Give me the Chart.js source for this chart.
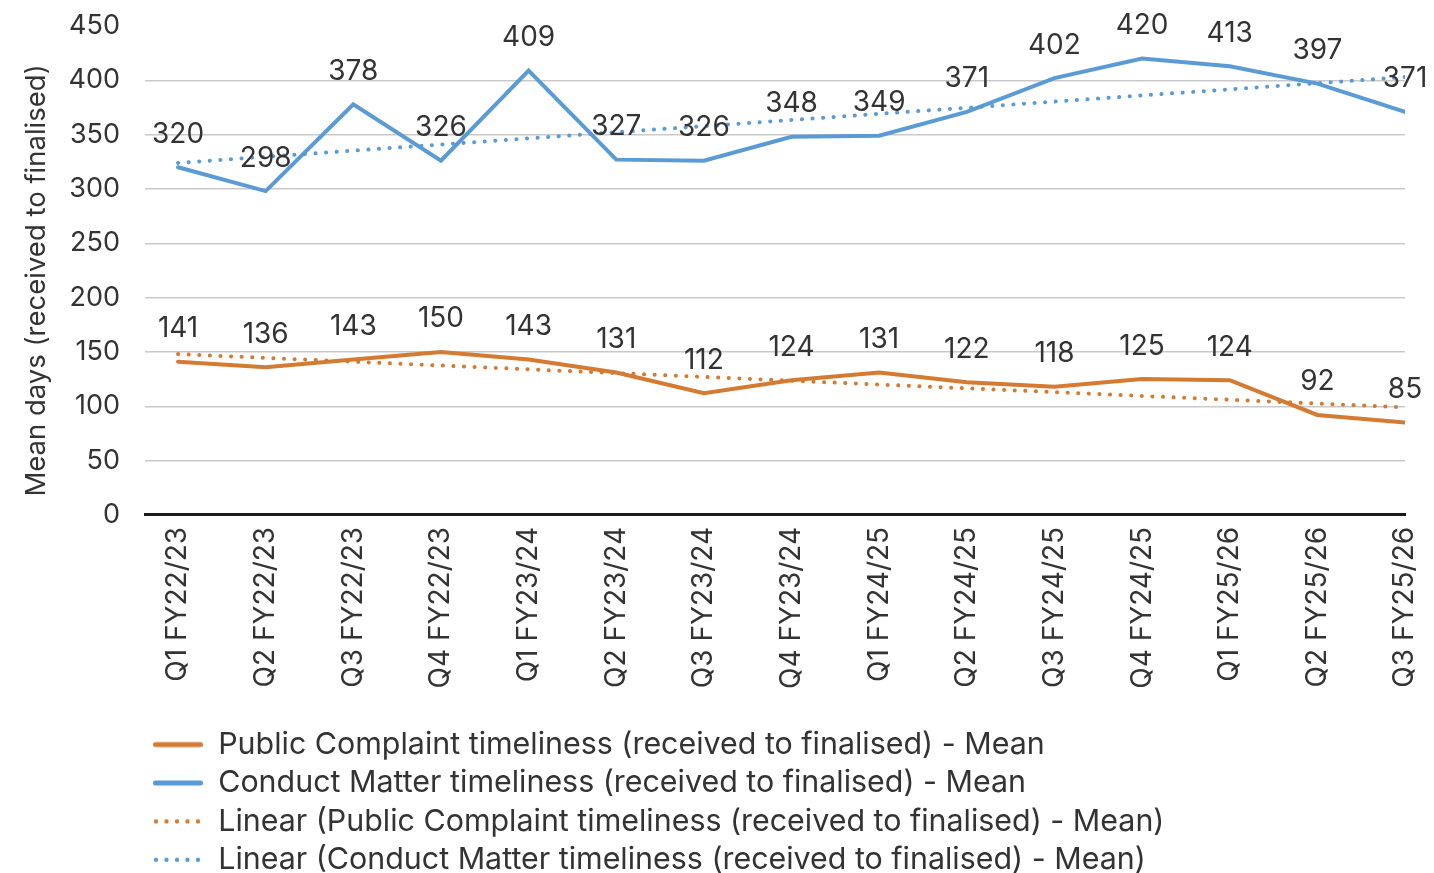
<!DOCTYPE html>
<html>
<head>
<meta charset="utf-8">
<script src="https://cdn.jsdelivr.net/npm/chart.js@4.4.1/dist/chart.umd.min.js"></script>
<style>
  html, body { margin: 0; padding: 0; background: #ffffff; overflow: hidden; }
  #wrap { width: 1434px; height: 885px; }
</style>
</head>
<body>
<div id="wrap"><canvas id="chart" width="1434" height="885"></canvas></div>
<script>
// Quarters on the x axis
const categories = [
  'Q1 FY22/23', 'Q2 FY22/23', 'Q3 FY22/23', 'Q4 FY22/23',
  'Q1 FY23/24', 'Q2 FY23/24', 'Q3 FY23/24', 'Q4 FY23/24',
  'Q1 FY24/25', 'Q2 FY24/25', 'Q3 FY24/25', 'Q4 FY24/25',
  'Q1 FY25/26', 'Q2 FY25/26', 'Q3 FY25/26'
];

// Mean days from received to finalised
const publicComplaint = [141, 136, 143, 150, 143, 131, 112, 124, 131, 122, 118, 125, 124, 92, 85];
const conductMatter   = [320, 298, 378, 326, 409, 327, 326, 348, 349, 371, 402, 420, 413, 397, 371];

// Linear trend lines: start and end values, straight line between them
const publicTrend  = [148, null, null, null, null, null, null, null, null, null, null, null, null, null, 99];
const conductTrend = [324, null, null, null, null, null, null, null, null, null, null, null, null, null, 403];

// Value axis ticks
const yTicks = [0, 50, 100, 150, 200, 250, 300, 350, 400, 450];
const yTitle = 'Mean days (received to finalised)';

const ORANGE = '#D57A31';
const BLUE = '#5B9BD5';
const TEXT = '#333333';
const FONT = 'Inter, "Noto Sans", sans-serif';

const toPoints = arr => arr.map((v, i) => ({ x: i, y: v }));

// Small legend swatches: a solid stroke or a row of round dots
function swatch(color, dotted) {
  const c = document.createElement('canvas');
  c.width = 50; c.height = 8;
  const g = c.getContext('2d');
  g.strokeStyle = color;
  g.fillStyle = color;
  if (dotted) {
    for (let x = 3; x < 50; x += 10.5) {
      g.beginPath();
      g.arc(x, 4, 2.2, 0, Math.PI * 2);
      g.fill();
    }
  } else {
    g.lineWidth = 5;
    g.lineCap = 'round';
    g.beginPath();
    g.moveTo(2.5, 4);
    g.lineTo(47.5, 4);
    g.stroke();
  }
  return c;
}

// Draws the value above each point of the two measured series,
// plus the rotated value-axis title
const valueLabels = {
  id: 'valueLabels',
  afterDatasetsDraw(chart) {
    const ctx = chart.ctx;
    ctx.save();
    ctx.font = '28px ' + FONT;
    ctx.fillStyle = TEXT;
    ctx.textAlign = 'center';
    ctx.textBaseline = 'middle';
    [0, 1].forEach(di => {
      const meta = chart.getDatasetMeta(di);
      const ds = chart.data.datasets[di];
      meta.data.forEach((pt, i) => {
        ctx.fillText(String(ds.data[i].y), pt.x, pt.y - 33);
      });
    });
    ctx.restore();
  },
  afterDraw(chart) {
    const ctx = chart.ctx;
    const area = chart.chartArea;
    ctx.save();
    ctx.font = '27.5px ' + FONT;
    ctx.fillStyle = TEXT;
    ctx.textAlign = 'center';
    ctx.textBaseline = 'middle';
    ctx.translate(37, (area.top + area.bottom) / 2 + 10);
    ctx.rotate(-Math.PI / 2);
    ctx.fillText(yTitle, 0, 0);
    ctx.restore();
  }
};

new Chart(document.getElementById('chart'), {
  type: 'line',
  data: {
    datasets: [
      {
        label: 'Public Complaint timeliness (received to finalised) - Mean',
        data: toPoints(publicComplaint),
        borderColor: ORANGE, backgroundColor: ORANGE,
        borderWidth: 4, pointRadius: 0, pointStyle: swatch(ORANGE, false), tension: 0,
        borderCapStyle: 'round', borderJoinStyle: 'miter'
      },
      {
        label: 'Conduct Matter timeliness (received to finalised) - Mean',
        data: toPoints(conductMatter),
        borderColor: BLUE, backgroundColor: BLUE,
        borderWidth: 4, pointRadius: 0, pointStyle: swatch(BLUE, false), tension: 0,
        borderCapStyle: 'round', borderJoinStyle: 'miter'
      },
      {
        label: 'Linear (Public Complaint timeliness (received to finalised) - Mean)',
        data: toPoints(publicTrend),
        borderColor: ORANGE, backgroundColor: ORANGE,
        borderWidth: 4, borderDash: [0.1, 10.5], borderCapStyle: 'round',
        pointRadius: 0, pointStyle: swatch(ORANGE, true), spanGaps: true, tension: 0
      },
      {
        label: 'Linear (Conduct Matter timeliness (received to finalised) - Mean)',
        data: toPoints(conductTrend),
        borderColor: BLUE, backgroundColor: BLUE,
        borderWidth: 4, borderDash: [0.1, 10.5], borderCapStyle: 'round',
        pointRadius: 0, pointStyle: swatch(BLUE, true), spanGaps: true, tension: 0
      }
    ]
  },
  options: {
    responsive: false,
    animation: false,
    layout: { padding: { top: 26, right: 29, left: 0, bottom: 0 } },
    plugins: {
      tooltip: { enabled: false },
      legend: {
        position: 'bottom',
        align: 'start',
        fullSize: false,
        labels: {
          usePointStyle: true,
          pointStyleWidth: 50,
          padding: 8,
          color: TEXT,
          font: { family: FONT, size: 30.4 }
        }
      }
    },
    scales: {
      x: {
        type: 'linear',
        min: -0.377,
        max: 14,
        afterBuildTicks(scale) {
          scale.ticks = categories.map((c, i) => ({ value: i }));
        },
        afterFit(scale) {
          scale.height = 206.5;
          scale.paddingLeft = 0;
          scale.paddingRight = 0;
        },
        grid: { display: false, drawTicks: false },
        border: { display: true, color: '#1a1a1a', width: 3 },
        ticks: {
          autoSkip: false,
          minRotation: 90,
          maxRotation: 90,
          padding: 12,
          color: TEXT,
          font: { family: FONT, size: 28 },
          callback: v => categories[v]
        }
      },
      y: {
        min: 0,
        max: 450,
        afterBuildTicks(scale) {
          scale.ticks = yTicks.map(v => ({ value: v }));
        },
        afterFit(scale) {
          scale.width = 145;
          scale.paddingTop = 0;
          scale.paddingBottom = 0;
        },
        grid: {
          drawTicks: false,
          lineWidth: 1.5,
          color: ctx => (ctx.tick && ctx.tick.value === 450) ? 'rgba(0,0,0,0)' : '#c9c9c9'
        },
        border: { display: false },
        ticks: {
          padding: 25,
          color: TEXT,
          font: { family: FONT, size: 27 }
        },
        title: { display: false }
      }
    }
  },
  plugins: [valueLabels]
});
</script>
</body>
</html>
